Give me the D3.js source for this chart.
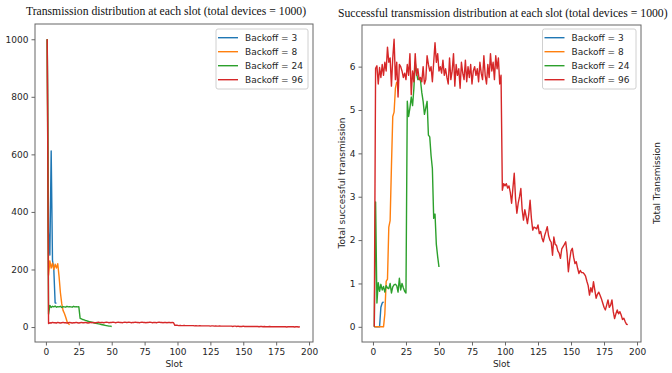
<!DOCTYPE html>
<html>
<head>
<meta charset="utf-8">
<script src="https://cdn.jsdelivr.net/npm/d3@7"></script>
<style>
  html, body { margin: 0; padding: 0; background: #fff; }
  svg { display: block; }
  .tick text { font-family: "DejaVu Sans", sans-serif; font-size: 9px; fill: #262626; }
</style>
</head>
<body>
<svg id="chart" width="672" height="373"></svg>
<script>
// ---------------- DATA ----------------
const seriesNames = ["Backoff = 3", "Backoff = 8", "Backoff = 24", "Backoff = 96"];
const xTicks = [0, 25, 50, 75, 100, 125, 150, 175, 200];
const leftYTicks = [0, 200, 400, 600, 800, 1000];
const rightYTicks = [0, 1, 2, 3, 4, 5, 6];

const leftTitle = "Transmission distribution at each slot (total devices = 1000)";
const rightTitle = "Successful transmission distribution at each slot (total devices = 1000)";
const xLabel = "Slot";
const rightYLabel = "Total successful transmission";
const farRightLabel = "Total Transmission";

// Transmissions per slot (left chart), slot = index + 1
const txBackoff3 = [1000, 330, 250, 612, 232, 200, 84, 82];
const txBackoff8 = [1000, 180, 230, 205, 222, 200, 218, 205, 220, 175, 120, 82, 58, 48, 35, 20, 12, 8];
const txBackoff24 = [
  1000, 45, 75, 68, 72, 70, 73, 69, 71, 70,
  72, 68, 71, 70, 69, 72, 70, 71, 70, 69,
  72, 70, 71, 70, 71, 30, 28, 26, 25, 23,
  22, 20, 19, 18, 17, 15, 14, 13, 12, 11,
  10, 9, 8, 7, 6, 5, 4, 3, 3, 2
];
const txBackoff96 = [
  1000, 12, 15, 14, 16, 15, 15, 14, 16, 15,
  14, 15, 16, 15, 15, 14, 15, 16, 15, 14,
  15, 15, 16, 15, 14, 15, 16, 15, 15, 16,
  15, 14, 15, 16, 15, 16, 15, 15, 16, 17,
  15, 16, 16, 15, 16, 17, 16, 15, 16, 16,
  17, 16, 15, 16, 17, 16, 16, 15, 16, 17,
  16, 16, 17, 16, 15, 16, 16, 17, 16, 16,
  15, 16, 17, 16, 16, 15, 16, 16, 17, 16,
  15, 16, 16, 15, 16, 17, 16, 16, 15, 16,
  16, 15, 16, 16, 15, 16, 15,
  6, 6, 6, 5, 6, 5, 5, 6, 5, 5,
  5, 5, 5, 5, 5, 4, 5, 4, 4, 5,
  4, 4, 4, 4, 4, 4, 4, 3, 4, 4,
  3, 4, 3, 3, 4, 3, 3, 3, 3, 3,
  3, 3, 3, 3, 2, 3, 3, 2, 3, 2,
  2, 2, 3, 2, 2, 2, 2, 2, 2, 2,
  2, 2, 2, 2, 1, 2, 2, 1, 2, 1,
  1, 1, 2, 1, 1, 1, 1, 1, 1, 1,
  1, 1, 1, 1, 1, 0, 1, 1, 1, 1,
  1, 0, 1, 1, 0, 1
];

// Successful transmissions per slot (right chart), slot = index + 1
const succBackoff3 = [0, 0, 0, 0, 0, 0.45, 0.55, 0.58];
const succBackoff8 = [0, 0, 0, 0, 0, 0, 0, 0, 0.3, 1.05, 1.1, 2.3, 2.45, 3.7, 4.85, 4.95, 5.5, 5.65];
const succBackoff24 = [
  0, 2.88, 0.55, 1.02, 0.82, 0.98, 0.85, 0.93, 0.8, 0.95,
  0.9, 0.88, 1.0, 0.78, 0.92, 0.97, 0.98, 0.95, 0.8, 1.12,
  0.85, 1.0, 0.9, 0.82, 0.78, 5.2, 4.85, 5.05, 5.3, 5.1,
  5.5, 6.1, 5.85, 5.7, 5.72, 5.68, 5.4, 5.2, 4.9, 5.05,
  5.2, 4.42, 4.38, 3.95, 3.65, 2.5, 2.6, 1.9, 1.62, 1.38
];
const succBackoff96 = [
  0, 5.96, 6.02, 5.6, 5.98, 5.75, 6.05, 5.8, 6.1, 5.9,
  6.45, 6.1, 6.2, 5.55, 6.2, 6.63, 5.7, 6.1, 5.3, 6.05,
  6.0, 5.9, 5.75, 5.85, 5.7, 6.05, 5.8, 6.3, 5.35, 5.9,
  5.65, 6.3, 5.8, 5.95, 5.7, 5.75, 5.65, 6.0, 5.6, 5.7,
  6.25, 6.05, 5.9, 6.0, 5.65, 6.1, 6.55, 6.1, 6.3, 5.9,
  6.0, 5.85, 6.15, 5.8, 5.95, 5.75, 5.6, 6.2, 5.7, 5.9,
  6.3, 5.55, 6.05, 5.8, 5.95, 5.5, 6.1, 5.85, 5.7, 6.15,
  5.65, 6.0, 5.75, 6.05, 5.6, 5.9, 6.0, 5.8, 5.95, 5.65,
  6.1, 5.85, 5.7, 6.25, 5.8, 5.6, 6.05, 5.75, 6.3, 5.9,
  6.1, 5.7, 6.25, 5.95, 6.2, 5.6, 5.8,
  3.15, 3.3, 3.25, 3.3, 3.2, 3.25, 3.1, 2.85, 3.2, 3.54,
  2.95, 2.62, 2.85, 3.0, 3.19, 2.7, 2.46, 2.7, 2.55, 2.38,
  2.6, 2.92, 2.5, 2.23, 2.3, 2.28, 2.26, 2.35, 2.15, 2.2,
  2.05, 1.96, 2.1, 2.2, 2.31, 2.1, 2.0, 1.95, 1.65, 2.07,
  1.9, 1.88, 1.75, 1.7, 1.58, 1.8, 1.85, 1.9, 1.96, 1.7,
  1.27, 1.55, 1.75, 1.81, 1.6, 1.46, 1.5, 1.35, 1.23, 1.3,
  1.25, 1.25, 1.22, 1.17, 1.05, 0.95, 0.73, 0.9, 0.8, 1.04,
  0.85, 0.66, 0.75, 0.8, 0.73, 0.65, 0.55, 0.45, 0.39, 0.5,
  0.62, 0.45, 0.5, 0.62, 0.35, 0.19, 0.3, 0.39, 0.3, 0.35,
  0.27, 0.17, 0.2, 0.12, 0.06, 0.05
];

// ---------------- STYLE ----------------
const colors = ["#1f77b4", "#ff7f0e", "#2ca02c", "#d62728"];

const svg = d3.select("#chart");

function drawPanel(cfg) {
  const x = d3.scaleLinear().domain([-8.3, 203]).range([cfg.left, cfg.right]);
  const y = d3.scaleLinear().domain(cfg.yDomain).range([cfg.bottom, cfg.top]);
  const g = svg.append("g");

  // lines
  const line = d3.line().x((d, i) => x(i + 1)).y(d => y(d));
  cfg.series.forEach((s, k) => {
    g.append("path")
      .datum(s)
      .attr("fill", "none")
      .attr("stroke", colors[k])
      .attr("stroke-width", 1.4)
      .attr("stroke-linejoin", "round")
      .attr("d", line);
  });

  // axes
  const xAxis = d3.axisBottom(x).tickValues(xTicks).tickSize(3.5).tickPadding(3).tickFormat(d3.format("d"));
  const yAxis = d3.axisLeft(y).tickValues(cfg.yTicks).tickSize(3.5).tickPadding(3).tickFormat(d3.format("d"));
  const gx = g.append("g").attr("transform", `translate(0,${cfg.bottom})`).call(xAxis);
  const gy = g.append("g").attr("transform", `translate(${cfg.left},0)`).call(yAxis);
  [gx, gy].forEach(a => {
    a.select(".domain").remove();
    a.selectAll(".tick line").attr("stroke", "#555").attr("stroke-width", 0.9);
  });

  // frame
  g.append("rect")
    .attr("x", cfg.left).attr("y", cfg.top)
    .attr("width", cfg.right - cfg.left).attr("height", cfg.bottom - cfg.top)
    .attr("fill", "none").attr("stroke", "#666").attr("stroke-width", 1);

  // title
  const t = g.append("text")
    .attr("x", cfg.titleX).attr("y", cfg.titleY)
    .attr("text-anchor", cfg.titleAnchor)
    .attr("font-family", "'Liberation Serif', 'Times New Roman', serif")
    .attr("font-size", 11.7)
    .attr("fill", "#111")
    .text(cfg.title);
  if (cfg.titleAnchor === "start") {
    const w = t.node().getComputedTextLength();
    if (cfg.titleX + w > 671) t.attr("x", 671 - w);
  }

  // x label
  g.append("text")
    .attr("x", (cfg.left + cfg.right) / 2).attr("y", 367)
    .attr("text-anchor", "middle")
    .attr("font-family", "'DejaVu Sans', sans-serif")
    .attr("font-size", 9)
    .attr("fill", "#262626")
    .text(xLabel);

  // legend
  const lg = g.append("g");
  lg.append("rect")
    .attr("x", cfg.legX).attr("y", 29).attr("width", cfg.legW).attr("height", 60)
    .attr("rx", 2).attr("fill", "#fff").attr("fill-opacity", 0.85)
    .attr("stroke", "#d0d0d0").attr("stroke-width", 1);
  seriesNames.forEach((name, k) => {
    const yy = 37.7 + k * 14;
    lg.append("line")
      .attr("x1", cfg.legX + 2).attr("x2", cfg.legX + 22)
      .attr("y1", yy).attr("y2", yy)
      .attr("stroke", colors[k]).attr("stroke-width", 1.4);
    lg.append("text")
      .attr("x", cfg.legX + 29).attr("y", yy + 3.3)
      .attr("font-family", "'DejaVu Sans', sans-serif")
      .attr("font-size", 9)
      .attr("fill", "#262626")
      .text(name);
  });
}

drawPanel({
  left: 35, right: 313, top: 24, bottom: 342,
  yDomain: [-52, 1053], yTicks: leftYTicks,
  series: [txBackoff3, txBackoff8, txBackoff24, txBackoff96],
  title: leftTitle, titleX: 166, titleY: 15, titleAnchor: "middle",
  legX: 216, legW: 92
});

drawPanel({
  left: 362, right: 641, top: 25, bottom: 342,
  yDomain: [-0.35, 6.96], yTicks: rightYTicks,
  series: [succBackoff3, succBackoff8, succBackoff24, succBackoff96],
  title: rightTitle, titleX: 338, titleY: 17, titleAnchor: "start",
  legX: 542.5, legW: 93.5
});

// y labels
svg.append("text")
  .attr("transform", "translate(345,183) rotate(-90)")
  .attr("text-anchor", "middle")
  .attr("font-family", "'DejaVu Sans', sans-serif")
  .attr("font-size", 9)
  .attr("fill", "#262626")
  .text(rightYLabel);

svg.append("text")
  .attr("transform", "translate(660,183) rotate(-90)")
  .attr("text-anchor", "middle")
  .attr("font-family", "'DejaVu Sans', sans-serif")
  .attr("font-size", 9)
  .attr("fill", "#262626")
  .text(farRightLabel);
</script>
</body>
</html>
